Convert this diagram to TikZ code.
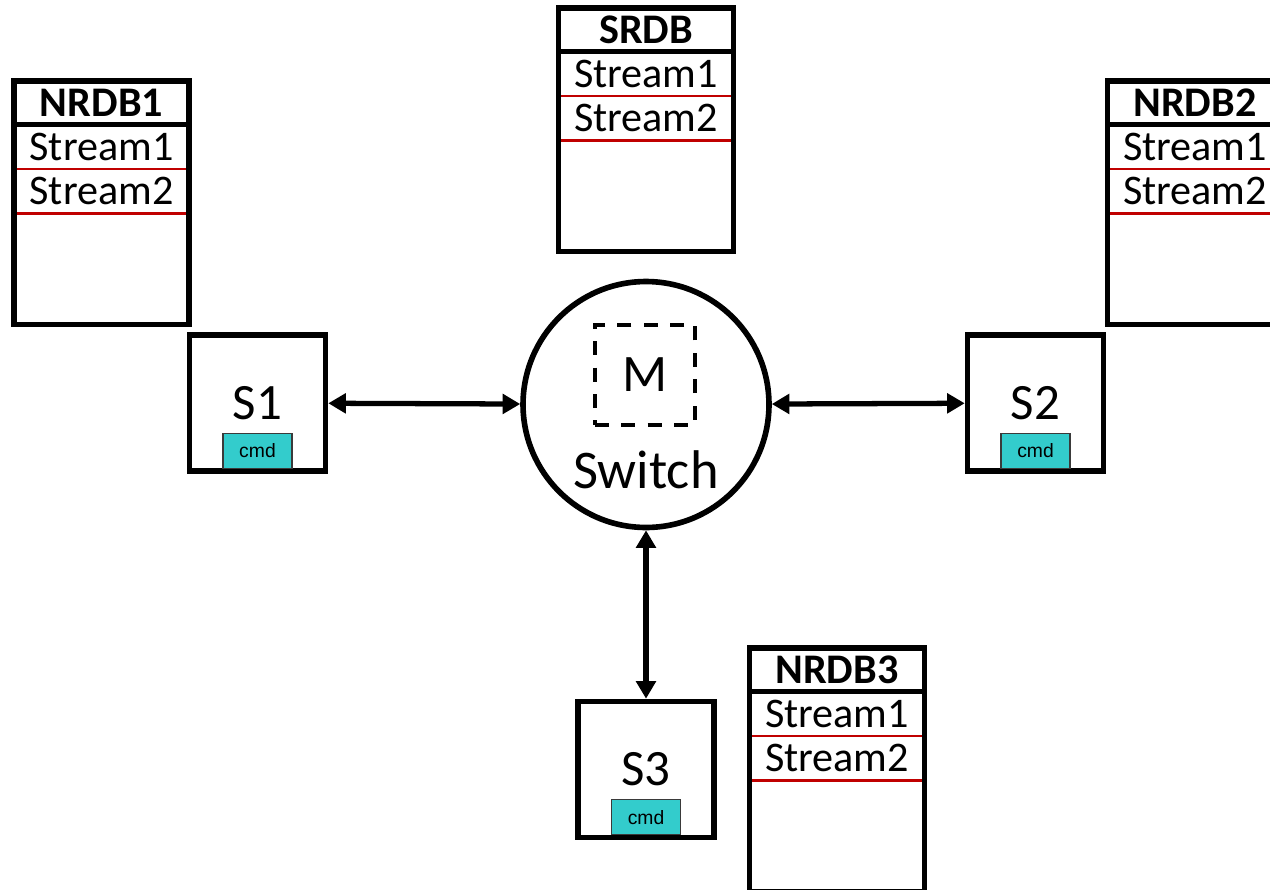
\documentclass[tikz,border=0pt]{standalone}
\usepackage{fontspec}
\setmainfont{Carlito}
\newfontfamily\cmdfont{Liberation Sans}
\usepackage{xcolor}
\usepackage{tikz}
\usetikzlibrary{positioning,arrows.meta}
\definecolor{cmdfill}{HTML}{33CCCC}
\definecolor{cmdedge}{HTML}{3A3A3A}
\definecolor{streamred}{HTML}{C00000}
\tikzset{
  frame/.style={line width=3.2pt,black},
  dbtitle/.style={minimum width=3.5cm,minimum height=0.87cm,inner sep=0pt,outer sep=0pt,
    font=\fontsize{24}{28}\selectfont\bfseries},
  dbrow/.style={minimum width=3.5cm,minimum height=0.89cm,inner sep=0pt,outer sep=0pt,
    font=\fontsize{24}{28}\selectfont},
  dbrest/.style={minimum width=3.5cm,minimum height=2.22cm,inner sep=0pt,outer sep=0pt},
  streamline/.style={line width=1.4pt,streamred},
  sbox/.style={frame,draw,minimum size=2.72cm,inner sep=0pt},
  slabel/.style={font=\fontsize{29}{34}\selectfont,inner sep=0pt},
  cmdbox/.style={draw=cmdedge,fill=cmdfill,line width=0.6pt,minimum width=1.38cm,
    minimum height=0.7cm,inner sep=0pt,font=\cmdfont\fontsize{11}{13}\selectfont},
  link/.style={line width=3pt,{Triangle[length=10pt,width=11pt]}-{Triangle[length=10pt,width=11pt]}}
}
\begin{document}
\begin{tikzpicture}[x=0.02cm,y=-0.02cm]
  \clip (0,0) rectangle (1270,889);
  % stream tables
  \foreach \n/\t/\x/\y in {nrdb1/NRDB1/101.5/81, srdb/SRDB/646/8,
                           nrdb2/NRDB2/1195/81, nrdb3/NRDB3/837/648} {
    \node[dbtitle,anchor=north] (\n) at (\x,\y) {\t};
    \node[dbrow,below=0pt of \n] (\n-s1) {Stream1};
    \node[dbrow,below=0pt of \n-s1] (\n-s2) {Stream2};
    \node[dbrest,below=0pt of \n-s2] (\n-end) {};
    \draw[streamline] (\n-s1.south west) -- (\n-s1.south east);
    \draw[streamline] (\n-s2.south west) -- (\n-s2.south east);
    \draw[frame] (\n.south west) -- (\n.south east);
    \draw[frame] (\n.north west) rectangle (\n-end.south east);
  }
  % switch with its M box
  \node[frame,draw,circle,minimum size=4.92cm,inner sep=0pt] (sw) at (646,404.5) {};
  \node[draw,line width=2.5pt,dash pattern=on 8pt off 7pt,minimum size=2cm,inner sep=0pt,
        font=\fontsize{30}{35}\selectfont] (mbox) at (645,375) {M};
  \node[font=\fontsize{31}{36}\selectfont,inner sep=0pt] (swlabel) at (646,470) {Switch};
  % stations
  \foreach \n/\t/\x/\y in {s1/S1/257.5/403, s2/S2/1035.5/403, s3/S3/646/769.5} {
    \node[sbox] (\n) at (\x,\y) {};
    \node[slabel] (\n-label) at (\x,\y) {\t};
    \node[cmdbox,above=2.9pt of \n.south] (\n-cmd) {cmd};
  }
  % links
  \draw[link] (s1) -- (sw);
  \draw[link] (sw) -- (s2);
  \draw[link] (sw) -- (s3);
\end{tikzpicture}
\end{document}
